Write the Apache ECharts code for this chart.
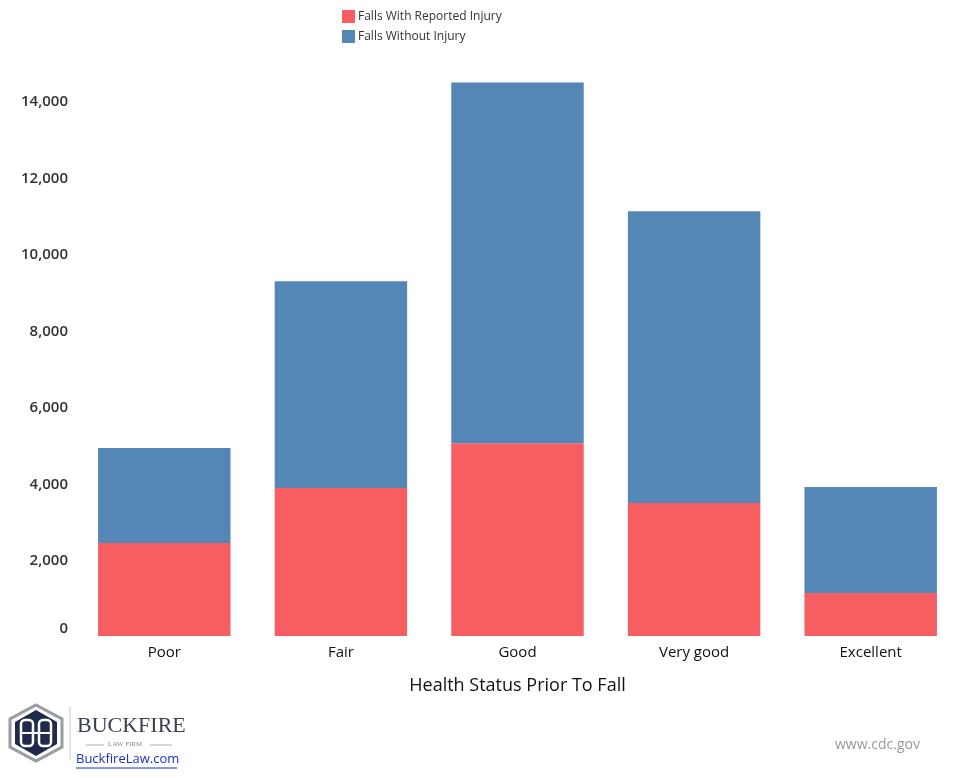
<!DOCTYPE html>
<html>
<head>
<meta charset="utf-8">
<script src="https://cdn.jsdelivr.net/npm/echarts@6/dist/echarts.min.js"></script>
<style>html,body{margin:0;padding:0;background:#fff}#c{width:972px;height:778px}</style>
</head>
<body>
<div id="c"></div>
<script>
const categories = ['Poor', 'Fair', 'Good', 'Very good', 'Excellent'];
const withInjury = [2430, 3865, 5040, 3475, 1125];
const withoutInjury = [2480, 5405, 9425, 7625, 2770];
const seriesNames = ['Falls With Reported Injury', 'Falls Without Injury'];
const xAxisTitle = 'Health Status Prior To Fall';

const chart = echarts.init(document.getElementById('c'), null, {renderer: 'canvas'});
const FONT = '"Open Sans", "Noto Sans", sans-serif';
chart.setOption({
  animation: false,
  backgroundColor: '#ffffff',
  color: ['#F65E62', '#5486B6'],
  legend: {
    orient: 'vertical',
    left: 337, top: 5,
    itemWidth: 13, itemHeight: 13, itemGap: 7,
    icon: 'rect',
    textStyle: {fontFamily: FONT, fontSize: 12, color: '#333', padding: [0, 0, 0, -2]},
    data: seriesNames
  },
  grid: {left: 76, right: 13, top: 62, bottom: 142, containLabel: false},
  xAxis: {
    type: 'category',
    data: categories,
    axisLine: {show: false},
    axisTick: {show: false},
    axisLabel: {fontFamily: FONT, fontSize: 15, color: '#111', margin: 9},
    name: xAxisTitle,
    nameLocation: 'middle',
    nameGap: 41,
    nameTextStyle: {fontFamily: FONT, fontSize: 18, color: '#111'}
  },
  yAxis: {
    type: 'value',
    min: 0, max: 15000, interval: 2000,
    splitLine: {show: false},
    axisLine: {show: false},
    axisTick: {show: false},
    axisLabel: {
      fontFamily: FONT, fontSize: 15, fontWeight: 600, color: '#333', margin: 8,
      showMaxLabel: false,
      padding: [3, 0, 0, 0],
      formatter: function (v) {
        if (v > 14000) return '';
        if (v === 0) return '{z|0}';
        return v.toLocaleString('en-US');
      },
      rich: {z: {fontFamily: FONT, fontSize: 15, fontWeight: 600, color: '#333', padding: [0, 0, 18, 0]}}
    }
  },
  series: [
    {name: seriesNames[0], type: 'bar', stack: 'a', data: withInjury, barWidth: '75%'},
    {name: seriesNames[1], type: 'bar', stack: 'a', data: withoutInjury, barWidth: '75%'}
  ],
  graphic: [
    {type: 'polygon', shape: {points: [[36,705],[62,719],[62,747],[36,761],[10,747],[10,719]]},
     style: {fill: '#ffffff', stroke: '#9a9ca3', lineWidth: 3}},
    {type: 'polygon', shape: {points: [[36,710],[57,722],[57,744],[36,756],[15,744],[15,722]]},
     style: {fill: '#1f2a4d'}},
    {type: 'rect', shape: {x: 21, y: 720, width: 12, height: 26, r: 4}, style: {fill: 'none', stroke: '#ffffff', lineWidth: 2.5}},
    {type: 'rect', shape: {x: 39, y: 720, width: 12, height: 26, r: 4}, style: {fill: 'none', stroke: '#ffffff', lineWidth: 2.5}},
    {type: 'line', shape: {x1: 21, y1: 733, x2: 51, y2: 733}, style: {stroke: '#ffffff', lineWidth: 2}},
    {type: 'line', shape: {x1: 70, y1: 707, x2: 70, y2: 760}, style: {stroke: '#c8c8c8', lineWidth: 1}},
    {type: 'text', left: 77, top: 715, style: {text: 'BUCKFIRE', font: '22px "Liberation Serif", serif', fill: '#3b4050'}},
    {type: 'text', left: 108, top: 741, style: {text: 'LAW FIRM', font: '7px "Liberation Serif", serif', fill: '#888'}},
    {type: 'line', shape: {x1: 86, y1: 745, x2: 104, y2: 745}, style: {stroke: '#999', lineWidth: 0.8}},
    {type: 'line', shape: {x1: 150, y1: 745, x2: 172, y2: 745}, style: {stroke: '#999', lineWidth: 0.8}},
    {type: 'text', left: 76, top: 753, style: {text: 'BuckfireLaw.com', font: '13px "Open Sans", sans-serif', fill: '#1a2fd0'}},
    {type: 'line', shape: {x1: 76, y1: 768, x2: 177, y2: 768}, style: {stroke: '#1a2fd0', lineWidth: 1}},
    {type: 'text', left: 835, top: 738, style: {text: 'www.cdc.gov', font: '14px "Open Sans", sans-serif', fill: '#999'}}
  ]
});
</script>
</body>
</html>
